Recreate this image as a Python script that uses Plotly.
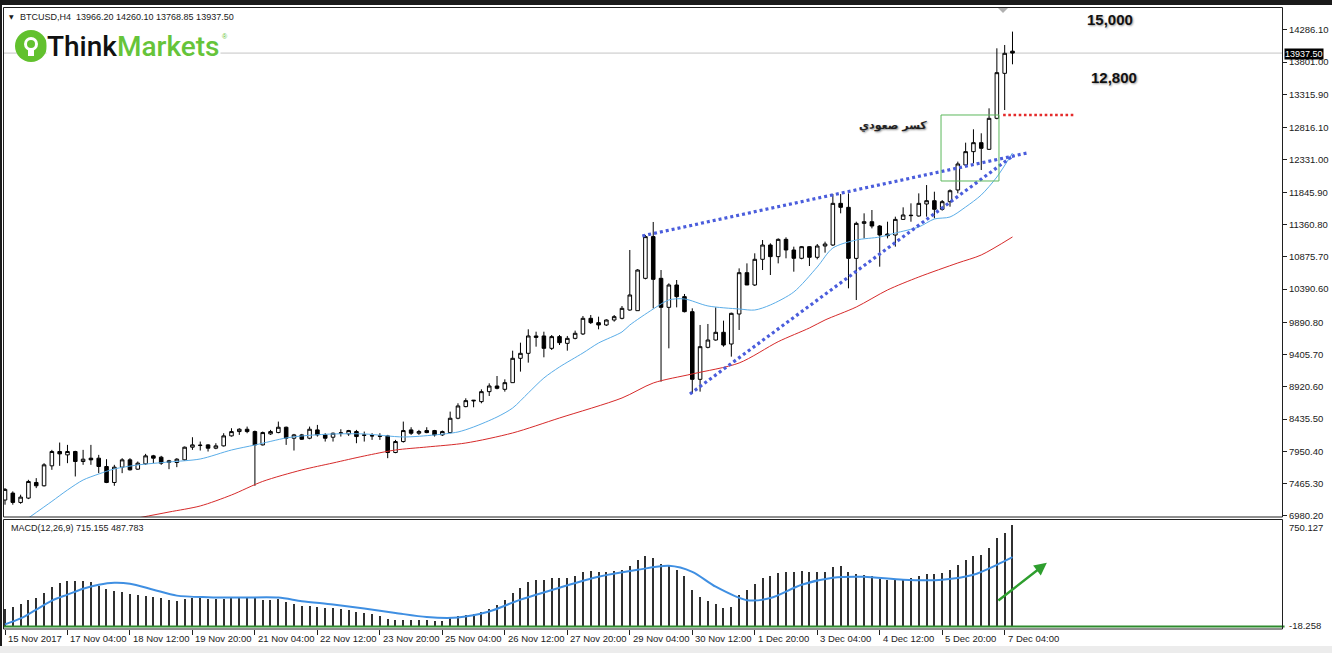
import plotly.graph_objects as go

# ---------------- DATA ----------------
bars = list(range(130))  # H4 bars, 15 Nov 2017 20:00 ... 7 Dec 2017 08:00

open_ = [7220, 7324, 7184, 7249, 7484, 7434, 7734, 7949, 7899, 7949,
         7799, 7849, 7849, 7724, 7484, 7714, 7824, 7684, 7764, 7884,
         7864, 7809, 7784, 7824, 8014, 8039, 8049, 7999, 8034, 8184,
         8249, 8284, 8249, 8049, 8214, 8234, 8314, 8149, 8199, 8149,
         8274, 8199, 8164, 8224, 8214, 8249, 8199, 8189, 8184, 8184,
         7934, 8099, 8274, 8224, 8264, 8264, 8199, 8234, 8449, 8624,
         8709, 8699, 8849, 8934, 8884, 8984, 9350, 9425, 9686, 9686,
         9500, 9676, 9575, 9650, 9716, 9951, 9886, 9851, 9926, 9951,
         10076, 10066, 10552, 11179, 10552, 10116, 10452, 10277, 10051, 9034,
         9515, 9625, 9741, 9565, 10016, 10637, 10452, 10838, 11053, 10878,
         11138, 10978, 10853, 11028, 10868, 11038, 11053, 11679, 11619, 10852,
         11378, 11403, 11338, 11218, 11203, 11438, 11494, 11489, 11669, 11719,
         11589, 11704, 11880, 12256, 12456, 12591, 12491, 12957, 13633, 13966.20]
high = [7400, 7350, 7300, 7524, 7549, 7774, 7974, 8084, 8049, 7960,
        7974, 8049, 7899, 7834, 7749, 7849, 7849, 7799, 7914, 7899,
        7884, 7824, 7849, 8024, 8164, 8099, 8060, 8074, 8224, 8299,
        8299, 8324, 8264, 8249, 8274, 8399, 8324, 8214, 8214, 8324,
        8349, 8224, 8234, 8284, 8274, 8274, 8249, 8224, 8224, 8199,
        8124, 8399, 8314, 8274, 8314, 8274, 8264, 8549, 8674, 8749,
        8724, 8884, 8974, 9084, 9034, 9465, 9585, 9786, 9750, 9750,
        9700, 9700, 9686, 9766, 9986, 10001, 9976, 9936, 10001, 10136,
        10978, 10690, 11204, 11399, 10677, 10477, 10527, 10317, 10101, 9851,
        9866, 10116, 9916, 10036, 10702, 10777, 10928, 11128, 11078, 11153,
        11168, 11028, 11038, 11038, 11068, 11103, 11819, 11819, 11829, 11403,
        11529, 11579, 11353, 11403, 11479, 11619, 11679, 11829, 11954, 11854,
        11729, 11889, 12306, 12591, 12792, 12732, 13107, 14009, 14059, 14260.10]
low = [7150, 7150, 7164, 7234, 7399, 7424, 7674, 7734, 7774, 7574,
       7749, 7749, 7624, 7474, 7434, 7624, 7664, 7674, 7749, 7774,
       7749, 7684, 7714, 7814, 7974, 7964, 7949, 7984, 8024, 8174,
       8199, 8224, 7434, 8040, 8199, 8224, 8049, 7964, 8124, 8134,
       8174, 8099, 8099, 8174, 8184, 8074, 8099, 8124, 8124, 7849,
       7924, 8084, 8199, 8199, 8224, 8174, 8184, 8224, 8434, 8614,
       8614, 8674, 8784, 8884, 8849, 8984, 9150, 9285, 9525, 9365,
       9475, 9550, 9465, 9635, 9700, 9866, 9786, 9836, 9901, 9936,
       10066, 10066, 10537, 10100, 8999, 9500, 10116, 10040, 8824, 8849,
       9500, 9615, 9525, 9375, 9776, 10452, 10437, 10677, 10602, 10777,
       10853, 10652, 10838, 10737, 10838, 10938, 11038, 11529, 10402, 10226,
       11153, 11303, 10727, 11153, 11028, 11429, 11403, 11479, 11479, 11454,
       11569, 11629, 11830, 12231, 12281, 12180, 12481, 12942, 13082, 13768.85]
close = [7380, 7184, 7264, 7499, 7434, 7749, 7949, 7914, 7949, 7799,
         7834, 7824, 7724, 7484, 7714, 7824, 7674, 7774, 7884, 7849,
         7774, 7789, 7834, 8014, 8049, 8044, 7999, 8034, 8184, 8249,
         8284, 8249, 8049, 8234, 8249, 8314, 8149, 8199, 8134, 8284,
         8199, 8149, 8224, 8229, 8264, 8174, 8194, 8184, 8179, 7934,
         8099, 8264, 8224, 8249, 8234, 8199, 8249, 8449, 8634, 8714,
         8719, 8849, 8934, 8899, 8984, 9350, 9425, 9686, 9665, 9500,
         9676, 9585, 9650, 9726, 9951, 9886, 9851, 9926, 9976, 10101,
         10302, 10677, 11179, 10537, 10116, 10452, 10277, 10051, 9034, 9525,
         9625, 9741, 9550, 10026, 10637, 10452, 10838, 11053, 10878, 11138,
         10978, 10853, 11028, 10868, 11038, 11068, 11679, 11619, 10852, 11378,
         11403, 11338, 11203, 11193, 11438, 11504, 11499, 11679, 11719, 11589,
         11704, 11869, 12271, 12456, 12591, 12506, 12957, 13643, 13934, 13937.50]

# moving averages (bar index, price)
ma_fast_x = [3, 6, 8, 10, 12, 14, 17, 21, 25, 29, 32, 36, 38, 42, 46, 51, 55, 58, 60, 63,
             65, 67, 69, 71, 74, 76, 79, 80, 83, 85, 87, 90, 94, 96, 98, 101, 104, 106,
             109, 112, 114, 117, 119, 121, 123, 125, 127, 129]
ma_fast_y = [6950, 7200, 7371, 7521, 7611, 7687, 7747, 7792, 7837, 7972, 8047, 8153, 8183,
             8213, 8213, 8168, 8198, 8243, 8318, 8468, 8603, 8829, 9054, 9220, 9430, 9580,
             9746, 9850, 10091, 10227, 10242, 10137, 10091, 10076, 10152, 10347, 10723,
             11008, 11128, 11173, 11233, 11324, 11444, 11474, 11624, 11805, 12075, 12436]
ma_slow_x = [17, 21, 25, 29, 33, 38, 42, 46, 50, 54, 59, 65, 71, 79, 83, 88, 94, 99,
             103, 105, 109, 113, 117, 122, 125, 129]
ma_slow_y = [6950, 7040, 7131, 7296, 7500, 7672, 7777, 7882, 7972, 8017, 8077, 8228, 8453,
             8754, 8979, 9115, 9280, 9600, 9806, 9926, 10121, 10377, 10572, 10783, 10903, 11174]

# MACD(12,26,9)
macd_hist = [126, 140, 161, 189, 203, 238, 280, 308, 322, 322,
             322, 315, 287, 266, 252, 245, 231, 224, 217, 210,
             203, 189, 182, 196, 203, 203, 196, 196, 196, 203,
             210, 210, 203, 189, 189, 196, 175, 161, 147, 147,
             140, 133, 133, 126, 119, 105, 98, 84, 70, 49,
             42, 42, 42, 42, 42, 35, 35, 56, 70, 77,
             84, 105, 126, 154, 189, 238, 273, 315, 329, 329,
             343, 343, 343, 357, 385, 392, 385, 385, 392, 399,
             427, 469, 497, 483, 441, 427, 399, 357, 259, 210,
             182, 161, 133, 140, 224, 259, 301, 343, 357, 378,
             385, 385, 392, 385, 385, 385, 420, 427, 385, 371,
             364, 357, 336, 329, 329, 336, 343, 357, 371, 371,
             378, 399, 434, 469, 497, 504, 553, 623, 658, 715.155]
signal_x = [0, 2, 4, 6, 8, 10, 12, 14, 16, 19, 22, 26, 30, 35, 38, 42, 46, 50, 54, 58,
            62, 66, 71, 76, 81, 85, 88, 91, 95, 98, 102, 106, 110, 115, 120, 124, 127, 129]
signal_y = [14, 56, 119, 182, 224, 266, 294, 308, 301, 259, 217, 206, 203, 203, 178, 154,
            126, 95, 66, 63, 105, 189, 273, 350, 399, 427, 385, 280, 185, 200, 294, 343,
            350, 329, 329, 364, 434, 487.783]

price_ticks = [6980.20, 7465.30, 7950.40, 8435.50, 8920.60, 9405.70, 9890.80, 10390.60,
               10875.70, 11360.80, 11845.90, 12331.00, 12816.10, 13315.90, 13801.00, 14286.10]
price_tick_text = ["%.2f" % v for v in price_ticks]
time_tick_bars = [0, 8, 16, 24, 32, 40, 48, 56, 64, 72, 80, 88, 96, 104, 112, 120, 128]
time_tick_labels = ["15 Nov 2017", "17 Nov 04:00", "18 Nov 12:00", "19 Nov 20:00", "21 Nov 04:00",
                    "22 Nov 12:00", "23 Nov 20:00", "25 Nov 04:00", "26 Nov 12:00", "27 Nov 20:00",
                    "29 Nov 04:00", "30 Nov 12:00", "1 Dec 20:00", "3 Dec 04:00", "4 Dec 12:00",
                    "5 Dec 20:00", "7 Dec 04:00"]

upper_trend_x = [81.6, 130.9]
upper_trend_y = [11189, 12436]
lower_trend_x = [87.7, 129.2]
lower_trend_y = [8814, 12406]
breakout_level = 13007
bid_price = 13937.50

# ---------------- LAYOUT HELPERS ----------------
W, H = 1332, 653
L, R, T, B = 3, 50, 8, 24
PW, PH = W - L - R, H - T - B


def PX(px):
    return (px - L) / PW


def PY(py):
    return (H - B - py) / PH


FONT = "Liberation Sans"

fig = go.Figure()

fig.add_trace(go.Candlestick(
    x=bars, open=open_, high=high, low=low, close=close,
    increasing=dict(line=dict(color="black", width=1), fillcolor="white"),
    decreasing=dict(line=dict(color="black", width=1), fillcolor="black"),
    whiskerwidth=0, xaxis="x", yaxis="y", hoverinfo="skip"))

fig.add_trace(go.Scatter(x=ma_fast_x, y=ma_fast_y, mode="lines",
                         line=dict(color="#5aade8", width=1, shape="spline", smoothing=0.8),
                         xaxis="x", yaxis="y", hoverinfo="skip"))
fig.add_trace(go.Scatter(x=ma_slow_x, y=ma_slow_y, mode="lines",
                         line=dict(color="#d62a2a", width=1, shape="spline", smoothing=0.8),
                         xaxis="x", yaxis="y", hoverinfo="skip"))

fig.add_trace(go.Scatter(x=upper_trend_x, y=upper_trend_y, mode="lines",
                         line=dict(color="#4a5ddc", width=3.2, dash="3px,3px"),
                         xaxis="x", yaxis="y", hoverinfo="skip"))
fig.add_trace(go.Scatter(x=lower_trend_x, y=lower_trend_y, mode="lines",
                         line=dict(color="#4a5ddc", width=3.2, dash="3px,3px"),
                         xaxis="x", yaxis="y", hoverinfo="skip"))
fig.add_trace(go.Scatter(x=[127.8, 137.0], y=[breakout_level, breakout_level], mode="lines",
                         line=dict(color="#e42a2a", width=2.6, dash="2.6px,2.6px"),
                         xaxis="x", yaxis="y", hoverinfo="skip"))

fig.add_trace(go.Bar(x=bars, y=macd_hist, width=0.14,
                     marker=dict(color="#303030", line=dict(width=0)),
                     xaxis="x", yaxis="y2", hoverinfo="skip"))
fig.add_trace(go.Scatter(x=signal_x, y=signal_y, mode="lines",
                         line=dict(color="#3f8fe2", width=2, shape="spline", smoothing=0.8),
                         xaxis="x", yaxis="y2", hoverinfo="skip"))

shapes = []
# bid line
shapes.append(dict(type="line", xref="paper", yref="y", x0=0, x1=1, y0=bid_price, y1=bid_price,
                   line=dict(color="#c4c4c4", width=1), layer="below"))
# breakout box
shapes.append(dict(type="rect", xref="x", yref="y", x0=119.85, x1=127.27, y0=12015, y1=breakout_level,
                   line=dict(color="#5cb85c", width=1)))
# macd zero level
shapes.append(dict(type="line", xref="paper", yref="y2", x0=0, x1=1.002, y0=0, y1=0,
                   line=dict(color="#2e8b2e", width=2)))
# pane frames
shapes.append(dict(type="rect", xref="paper", yref="paper", x0=PX(3.5), x1=PX(1282.5), y0=PY(517), y1=PY(7.5),
                   line=dict(color="#202020", width=1)))
shapes.append(dict(type="rect", xref="paper", yref="paper", x0=PX(3.5), x1=PX(1282.5), y0=PY(629), y1=PY(519.5),
                   line=dict(color="#202020", width=1)))
# window frame
shapes.append(dict(type="rect", xref="paper", yref="paper", x0=PX(0), x1=PX(W), y0=PY(0), y1=PY(5),
                   fillcolor="#1a1a1a", line=dict(width=0)))
shapes.append(dict(type="rect", xref="paper", yref="paper", x0=PX(0), x1=PX(2), y0=PY(0), y1=PY(H),
                   fillcolor="#1a1a1a", line=dict(width=0)))
shapes.append(dict(type="rect", xref="paper", yref="paper", x0=PX(0), x1=PX(W), y0=PY(646), y1=PY(H),
                   fillcolor="#ececec", line=dict(width=0)))
# chart shift marker
shapes.append(dict(type="path", xref="paper", yref="paper",
                   path="M %f %f L %f %f L %f %f Z" % (PX(998), PY(8), PX(1008), PY(8), PX(1003), PY(13)),
                   fillcolor="#b0b0b0", line=dict(width=0)))
# logo icon
shapes.append(dict(type="circle", xref="paper", yref="paper", x0=PX(15), x1=PX(47), y0=PY(62), y1=PY(30),
                   fillcolor="#62c12e", line=dict(width=0)))
shapes.append(dict(type="circle", xref="paper", yref="paper", x0=PX(24), x1=PX(38), y0=PY(51), y1=PY(37),
                   fillcolor="white", line=dict(width=0)))
shapes.append(dict(type="circle", xref="paper", yref="paper", x0=PX(27), x1=PX(35), y0=PY(48), y1=PY(40),
                   fillcolor="#62c12e", line=dict(width=0)))
shapes.append(dict(type="rect", xref="paper", yref="paper", x0=PX(28), x1=PX(34), y0=PY(56), y1=PY(50),
                   fillcolor="white", line=dict(width=0)))


def note(px, py, text, size=9.5, family=FONT, color="#1a1a1a", xanchor="left", **kw):
    return dict(x=PX(px), y=PY(py), xref="paper", yref="paper", text=text, showarrow=False,
                xanchor=xanchor, yanchor="middle",
                font=dict(family=family, size=size, color=color, **kw.pop("fontkw", {})), **kw)


annotations = []
for b, lab in zip(time_tick_bars, time_tick_labels):
    annotations.append(dict(x=b, xref="x", y=PY(638), yref="paper", text=lab, showarrow=False,
                            xanchor="left", yanchor="middle", xshift=1,
                            font=dict(family=FONT, size=9.5, color="#1a1a1a")))

annotations += [
    note(7, 17, "▼", size=6, family="DejaVu Sans"),
    note(18, 17, "BTCUSD,H4  13966.20 14260.10 13768.85 13937.50", size=9),
    note(46, 47, "<span style='color:#111111'>Think</span><span style='color:#66c43a'>Markets</span>",
         size=28, family="Roboto", bgcolor="white", borderpad=0, fontkw=dict(weight=500)),
    note(220, 37, "®", size=7, color="#66c43a"),
    note(9, 528, "MACD(12,26,9) 715.155 487.783", size=9),
    note(1287, 527, "750.127"),
    note(1287, 625, "-18.258"),
    note(1110, 20, "<b>15,000</b>", size=15, color="#111111", xanchor="center",
         fontkw=dict(shadow="1px 1px 2px #9a9a9a")),
    note(1114, 78, "<b>12,800</b>", size=15, color="#111111", xanchor="center",
         fontkw=dict(shadow="1px 1px 2px #9a9a9a")),
    note(893, 126, "<b>كسر صعودي</b>", size=11, family="DejaVu Sans", color="#222222", xanchor="center",
         fontkw=dict(shadow="1px 1px 2px #8a8a8a")),
    dict(x=PX(1284), y=bid_price, xref="paper", yref="y", text="13937.50", showarrow=False,
         xanchor="left", yanchor="middle", bgcolor="black", borderpad=0, yshift=-1,
         font=dict(family=FONT, size=9, color="white")),
    dict(x=133.4, y=448, xref="x", yref="y2", ax=127, ay=175, axref="x", ayref="y2", text="",
         showarrow=True, arrowhead=2, arrowsize=1, arrowwidth=2.5, arrowcolor="#2e9e2e"),
]

fig.update_layout(
    width=W, height=H, margin=dict(l=L, r=R, t=T, b=B),
    paper_bgcolor="white", plot_bgcolor="white", showlegend=False, boxgap=0.35, bargap=0,
    xaxis=dict(range=[(3 - 5) / 7.81, (1282 - 5) / 7.81], anchor="y2", tickvals=time_tick_bars,
               ticks="outside", ticklen=5, tickcolor="#202020", showticklabels=False,
               showgrid=False, zeroline=False, showline=False, rangeslider=dict(visible=False),
               fixedrange=True),
    yaxis=dict(domain=[PY(517), 1], range=[6965, 14615], side="right", anchor="x",
               tickvals=price_ticks, ticktext=price_tick_text, ticks="outside", ticklen=4,
               tickcolor="#202020", tickfont=dict(family=FONT, size=9.5, color="#1a1a1a"),
               showgrid=False, zeroline=False, showline=False),
    yaxis2=dict(domain=[0, PY(520)], range=[-18.258, 750.127], anchor="x", showticklabels=False,
                showgrid=False, zeroline=False, showline=False),
    shapes=shapes, annotations=annotations,
)

fig.write_html("out.html")
